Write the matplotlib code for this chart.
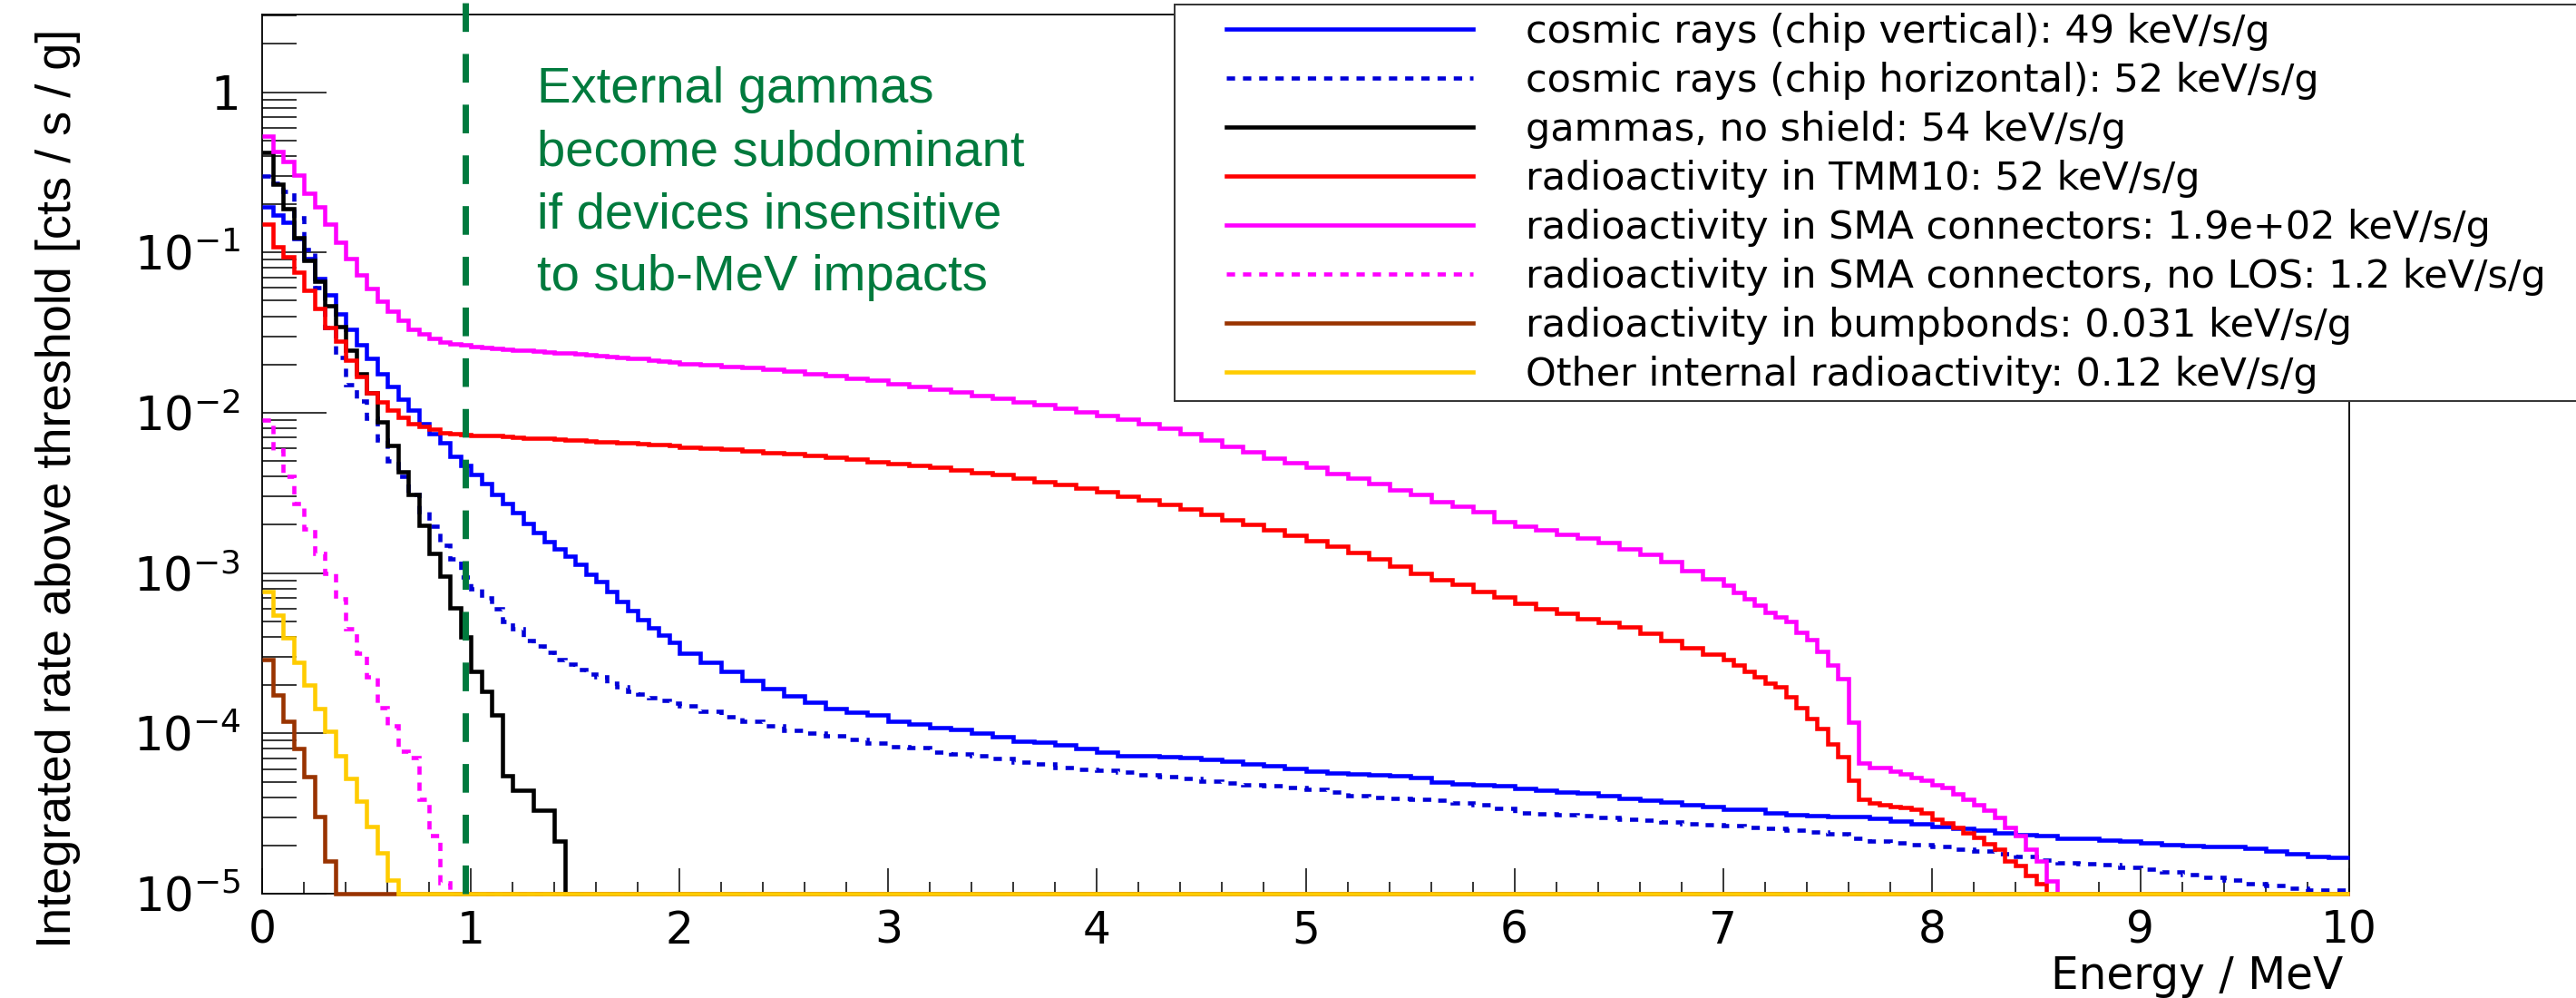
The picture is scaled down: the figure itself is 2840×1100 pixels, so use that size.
import numpy as np
import matplotlib
matplotlib.use("Agg")
import matplotlib.pyplot as plt
from matplotlib import font_manager
from matplotlib.patches import Rectangle
from matplotlib.ticker import LogLocator, MultipleLocator, NullFormatter

YMIN, YMAX = 1e-5, 3.05

# histogram binning as (start, stop, width) in MeV
BINS_COSMIC = [(0.0, 2.0, 0.05), (2.0, 10.0, 0.1)]
BINS_SMA = [(0.0, 2.0, 0.05), (2.0, 7.0, 0.1), (7.0, 8.6, 0.05)]
BINS_TMM = [(0.0, 2.0, 0.05), (2.0, 7.0, 0.1), (7.0, 8.55, 0.05)]
BINS_GAMMA = [(0.0, 1.45, 0.05)]
BINS_SMA_NOLOS = [(0.0, 0.9, 0.05)]
BINS_BUMP = [(0.0, 0.35, 0.05)]
BINS_OTHER = [(0.0, 0.65, 0.05)]

# integrated rate above threshold [cts/s/g]
cosmic_vertical = [
    0.192, 0.172, 0.1545, 0.1217, 0.0918, 0.0692, 0.0545, 0.0411, 0.0331, 0.0266,
    0.0219, 0.0176, 0.0145, 0.0122, 0.01045, 0.0086, 0.00739, 0.00649, 0.00533, 0.00469,
    0.00411, 0.00361, 0.0031, 0.00272, 0.00239, 0.00205, 0.0018, 0.00158, 0.00142, 0.00127,
    0.00114, 0.00098, 0.00088, 0.000771, 0.000662, 0.000582, 0.000511, 0.000458, 0.000411, 0.000369,
    3.17e-4, 2.78e-4, 2.44e-4, 2.14e-4, 1.90e-4, 1.72e-4, 1.57e-4, 1.42e-4, 1.36e-4, 1.30e-4,
    1.19e-4, 1.14e-4, 1.09e-4, 1.06e-4, 1.00e-4, 9.5e-5, 8.98e-5, 8.79e-5, 8.51e-5, 8.05e-5,
    7.61e-5, 7.29e-5, 7.29e-5, 7.14e-5, 7.08e-5, 6.87e-5, 6.69e-5, 6.46e-5, 6.29e-5, 6.03e-5,
    5.82e-5, 5.69e-5, 5.57e-5, 5.5e-5, 5.43e-5, 5.27e-5, 4.97e-5, 4.83e-5, 4.79e-5, 4.70e-5,
    4.56e-5, 4.43e-5, 4.30e-5, 4.24e-5, 4.10e-5, 3.94e-5, 3.83e-5, 3.72e-5, 3.57e-5, 3.51e-5,
    3.37e-5, 3.35e-5, 3.21e-5, 3.12e-5, 3.07e-5, 3.03e-5, 3.03e-5, 2.95e-5, 2.83e-5, 2.74e-5,
    2.62e-5, 2.55e-5, 2.48e-5, 2.40e-5, 2.33e-5, 2.29e-5, 2.20e-5, 2.20e-5, 2.16e-5, 2.14e-5,
    2.08e-5, 2.02e-5, 2.00e-5, 1.96e-5, 1.96e-5, 1.91e-5, 1.85e-5, 1.78e-5, 1.70e-5, 1.68e-5,
]
cosmic_horizontal = [
    0.30, 0.27, 0.24, 0.165, 0.105, 0.060, 0.034, 0.022, 0.015, 0.0118,
    0.0092, 0.0068, 0.0050, 0.0040, 0.0031, 0.0024, 0.00195, 0.0015, 0.00122, 0.00095,
    0.0008, 0.0007, 0.0006, 0.0005, 0.00045, 0.00038, 0.00035, 0.00032, 0.00029, 0.00027,
    0.00025, 0.000235, 0.000224, 0.000205, 0.000196, 0.000184, 0.000176, 0.000168, 0.000161, 0.000155,
    1.48e-4, 1.38e-4, 1.27e-4, 1.19e-4, 1.12e-4, 1.05e-4, 1.0e-4, 9.6e-5, 9.2e-5, 8.7e-5,
    8.3e-5, 8.1e-5, 7.6e-5, 7.4e-5, 7.25e-5, 7.0e-5, 6.6e-5, 6.45e-5, 6.1e-5, 6.0e-5,
    5.9e-5, 5.75e-5, 5.5e-5, 5.35e-5, 5.2e-5, 5.05e-5, 4.9e-5, 4.8e-5, 4.7e-5, 4.6e-5,
    4.45e-5, 4.3e-5, 4.1e-5, 4.0e-5, 3.94e-5, 3.88e-5, 3.83e-5, 3.7e-5, 3.6e-5, 3.4e-5,
    3.21e-5, 3.15e-5, 3.12e-5, 3.05e-5, 3.0e-5, 2.9e-5, 2.86e-5, 2.8e-5, 2.74e-5, 2.7e-5,
    2.65e-5, 2.6e-5, 2.55e-5, 2.5e-5, 2.42e-5, 2.35e-5, 2.2e-5, 2.12e-5, 2.08e-5, 2.02e-5,
    1.96e-5, 1.9e-5, 1.85e-5, 1.78e-5, 1.7e-5, 1.62e-5, 1.56e-5, 1.53e-5, 1.51e-5, 1.45e-5,
    1.43e-5, 1.36e-5, 1.31e-5, 1.26e-5, 1.22e-5, 1.16e-5, 1.12e-5, 1.08e-5, 1.06e-5, 1.06e-5,
]
gammas_no_shield = [
    0.420, 0.266, 0.188, 0.124, 0.0898, 0.0662, 0.0468, 0.0345, 0.0244, 0.0176,
    0.0133, 0.00879, 0.00621, 0.00429, 0.00310, 0.00198, 0.00133, 9.6e-4, 6.08e-4, 4.02e-4,
    2.44e-4, 1.84e-4, 1.30e-4, 5.45e-5, 4.39e-5, 4.39e-5, 3.31e-5, 3.31e-5, 2.14e-5,
]
tmm10 = [
    0.151, 0.109, 0.0937, 0.0755, 0.0582, 0.0448, 0.0338, 0.0278, 0.0214, 0.0169,
    0.0133, 0.01165, 0.01045, 0.00937, 0.0086, 0.00823, 0.00788, 0.00755, 0.00738, 0.00729,
    0.00723, 0.00723, 0.00718, 0.00711, 0.00702, 0.00698, 0.00695, 0.0069, 0.00685, 0.0068,
    0.00673, 0.00668, 0.00662, 0.00657, 0.00652, 0.00648, 0.00642, 0.00636, 0.0063, 0.00624,
    0.00612, 0.006, 0.0059, 0.00578, 0.00565, 0.00553, 0.0054, 0.00527, 0.00512, 0.00497,
    0.00483, 0.00468, 0.00455, 0.00441, 0.00425, 0.0041, 0.0039, 0.00372, 0.00355, 0.0034,
    0.00322, 0.00303, 0.00285, 0.00268, 0.0025, 0.00232, 0.00215, 0.002, 0.00186, 0.00172,
    0.0016, 0.00148, 0.00135, 0.00122, 0.0011, 0.001, 0.00091, 0.00085, 0.00077, 0.00071,
    0.00065, 0.0006, 0.00056, 0.00052, 0.000495, 0.00046, 0.00042, 0.00038, 0.00034, 0.00031,
    2.9e-4, 2.66e-4, 2.44e-4, 2.24e-4, 2.05e-4, 1.96e-4, 1.69e-4, 1.45e-4, 1.24e-4, 1.07e-4,
    8.6e-5, 7.2e-5, 5.1e-5, 3.9e-5, 3.7e-5, 3.6e-5, 3.5e-5, 3.45e-5, 3.35e-5, 3.2e-5,
    2.9e-5, 2.75e-5, 2.6e-5, 2.4e-5, 2.25e-5, 2.05e-5, 1.9e-5, 1.6e-5, 1.5e-5, 1.3e-5,
    1.15e-5,
]
sma_connectors = [
    0.533, 0.429, 0.369, 0.303, 0.234, 0.192, 0.151, 0.116, 0.0918, 0.0723,
    0.0594, 0.0499, 0.0429, 0.0377, 0.0331, 0.031, 0.029, 0.0276, 0.0269, 0.0265,
    0.026, 0.0257, 0.0253, 0.025, 0.0247, 0.0245, 0.0242, 0.024, 0.0237, 0.0235,
    0.0232, 0.023, 0.0227, 0.0224, 0.0222, 0.0219, 0.0217, 0.0214, 0.0211, 0.0208,
    0.0203, 0.0199, 0.0195, 0.0191, 0.0186, 0.0181, 0.0176, 0.0171, 0.0165, 0.0159,
    0.0152, 0.0146, 0.014, 0.0134, 0.0128, 0.0123, 0.0117, 0.0112, 0.0106, 0.0101,
    0.0096, 0.0091, 0.0086, 0.008, 0.0074, 0.0068, 0.0062, 0.0057, 0.0052, 0.0049,
    0.0046, 0.0042, 0.0039, 0.0036, 0.0033, 0.0031, 0.0028, 0.0026, 0.0024, 0.0021,
    0.00195, 0.00185, 0.00175, 0.00165, 0.00155, 0.00142, 0.0013, 0.00118, 0.00103, 0.00092,
    8.42e-4, 7.55e-4, 6.92e-4, 6.34e-4, 5.69e-4, 5.33e-4, 5.0e-4, 4.29e-4, 3.85e-4, 3.24e-4,
    2.67e-4, 2.19e-4, 1.17e-4, 6.49e-5, 6.08e-5, 6.08e-5, 5.82e-5, 5.57e-5, 5.33e-5, 5.11e-5,
    4.79e-5, 4.58e-5, 4.2e-5, 3.9e-5, 3.6e-5, 3.3e-5, 3.0e-5, 2.6e-5, 2.3e-5, 1.9e-5,
    1.6e-5, 1.2e-5,
]
sma_no_los = [
    8.99e-3, 5.82e-3, 4.02e-3, 2.72e-3, 1.88e-3, 1.33e-3, 1.0e-3, 6.92e-4, 4.49e-4, 3.17e-4,
    2.24e-4, 1.45e-4, 1.12e-4, 7.73e-5, 7.08e-5, 3.86e-5, 2.29e-5, 1.17e-5,
]
bumpbonds = [2.9e-4, 1.73e-4, 1.19e-4, 8.07e-5, 5.35e-5, 3.04e-5, 1.59e-5]
other_internal = [
    7.62e-4, 5.46e-4, 3.94e-4, 2.78e-4, 2.01e-4, 1.42e-4, 1.03e-4, 7.25e-5, 5.22e-5, 3.77e-5,
    2.61e-5, 1.80e-5, 1.22e-5,
]

legend_labels = [
    "cosmic rays (chip vertical): 49 keV/s/g",
    "cosmic rays (chip horizontal): 52 keV/s/g",
    "gammas, no shield: 54 keV/s/g",
    "radioactivity in TMM10: 52 keV/s/g",
    "radioactivity in SMA connectors: 1.9e+02 keV/s/g",
    "radioactivity in SMA connectors, no LOS: 1.2 keV/s/g",
    "radioactivity in bumpbonds: 0.031 keV/s/g",
    "Other internal radioactivity: 0.12 keV/s/g",
]
note_lines = [
    "External gammas",
    "become subdominant",
    "if devices insensitive",
    "to sub-MeV impacts",
]
x_ticks = list(range(11))
y_ticks = [1e-5, 1e-4, 1e-3, 1e-2, 1e-1, 1]
y_tick_labels = [r"$10^{-5}$", r"$10^{-4}$", r"$10^{-3}$", r"$10^{-2}$", r"$10^{-1}$", "1"]
THRESHOLD_LINE = 0.975  # MeV

GREEN = "#007a3d"
DOTTED = (0, (2.0, 1.9))


def bin_edges(runs):
    pieces = [np.arange(a, b - 1e-9, w) for a, b, w in runs]
    return np.round(np.append(np.concatenate(pieces), runs[-1][1]), 3)


def histogram(values, runs):
    edges = bin_edges(runs)
    vals = np.asarray(values, dtype=float)
    assert len(vals) == len(edges) - 1, (len(vals), len(edges))
    if edges[-1] < 10.0:
        edges = np.append(edges, 10.0)
        vals = np.append(vals, 0.0)
    # empty bins sit on the lower frame edge, like ROOT draws them
    return edges, np.maximum(vals, YMIN)


available = {f.name for f in font_manager.fontManager.ttflist}
if "Liberation Sans Narrow" in available:
    ylabel_font, ylabel_size = "Liberation Sans Narrow", 47
else:
    ylabel_font, ylabel_size = "Liberation Sans", 39

plt.rcParams["font.family"] = ["DejaVu Sans"]
plt.rcParams["mathtext.fontset"] = "dejavusans"

W, H = 2840, 1100
fig = plt.figure(figsize=(W / 100, H / 100), dpi=100)
ax = fig.add_axes([289 / W, 1 - 985 / H, 2301 / W, 969 / H])
ax.set_yscale("log")

series = [
    (cosmic_vertical, BINS_COSMIC, "#0000ff", "-"),
    (cosmic_horizontal, BINS_COSMIC, "#0000d8", DOTTED),
    (gammas_no_shield, BINS_GAMMA, "black", "-"),
    (tmm10, BINS_TMM, "#ff0000", "-"),
    (sma_connectors, BINS_SMA, "#ff00ff", "-"),
    (sma_no_los, BINS_SMA_NOLOS, "#ff00ff", DOTTED),
    (bumpbonds, BINS_BUMP, "#993300", "-"),
    (other_internal, BINS_OTHER, "#ffcc00", "-"),
]
for (vals, runs, color, ls), label in zip(series, legend_labels):
    edges, v = histogram(vals, runs)
    # above the frame so the empty-bin floor covers the bottom spine
    ax.stairs(v, edges, baseline=None, color=color, linestyle=ls,
              linewidth=3.3, label=label, clip_on=False, zorder=2.6)

# dashed marker at ~1 MeV, runs slightly past the frame top
ax.plot([THRESHOLD_LINE, THRESHOLD_LINE], [YMIN, 3.76], color=GREEN, lw=5.0,
        dashes=(4.55, 3.5), clip_on=False, zorder=3)

ax.set_xlim(0, 10)
ax.set_ylim(YMIN, YMAX)
ax.set_xticks(x_ticks, labels=[str(t) for t in x_ticks])
ax.xaxis.set_minor_locator(MultipleLocator(0.2))
ax.set_yticks(y_ticks, labels=y_tick_labels)
ax.yaxis.set_minor_locator(LogLocator(base=10, subs=np.arange(2, 10), numticks=20))
ax.yaxis.set_minor_formatter(NullFormatter())

ax.tick_params(which="both", direction="in", top=False, right=False, width=1.1)
ax.tick_params(axis="y", which="major", length=51, pad=17, labelsize=37)
ax.tick_params(axis="y", which="minor", length=27)
ax.tick_params(axis="x", which="major", length=20, pad=12, labelsize=35)
ax.tick_params(axis="x", which="minor", length=9.5)
for sp in ax.spines.values():
    sp.set_linewidth(1.3)

ax.set_xlabel("Energy / MeV", fontsize=35, ha="right")
ax.xaxis.set_label_coords((2583 - 289) / 2301, -(1051.5 - 985) / 969)
ax.set_ylabel("Integrated rate above threshold [cts / s / g]",
              fontsize=ylabel_size, family=ylabel_font)
ax.yaxis.set_label_coords((89 - 289) / 2301, (985 - 538) / 969)

for i, line in enumerate(note_lines):
    fig.text(592 / W, 1 - (113 + 69 * i) / H, line, color=GREEN, fontsize=40.5,
             family="Liberation Sans", ha="left", va="baseline")

# legend box runs off the right edge of the canvas
fig.add_artist(Rectangle((1295 / W, 1 - 442 / H), (2950 - 1295) / W, (442 - 5) / H,
                         transform=fig.transFigure, facecolor="white",
                         edgecolor="#333333", lw=1.4, zorder=4))
handles, labels = ax.get_legend_handles_labels()
fig.legend(handles, labels, loc="upper left", bbox_to_anchor=(1352 / W, 1 - 14.1 / H),
           frameon=False, fontsize=31, handlelength=6.32, handletextpad=1.35,
           labelspacing=0.28, borderpad=0, borderaxespad=0)

fig.savefig("out.png", dpi=100)
